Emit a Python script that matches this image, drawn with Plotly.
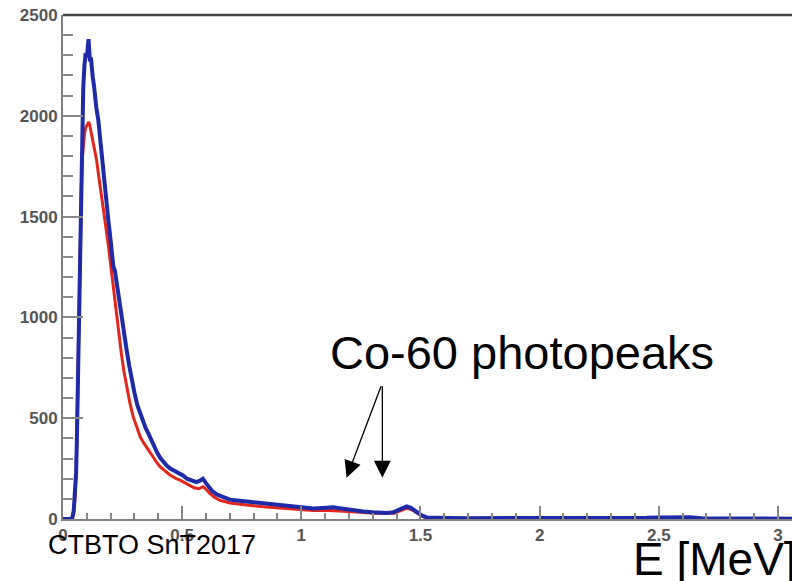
import plotly.graph_objects as go

# Energy spectra (counts per bin vs. energy in MeV)
blue_energy = [0.000, 0.030, 0.038, 0.045, 0.050, 0.055, 0.058, 0.060, 0.063, 0.067,
               0.071, 0.074, 0.078, 0.082, 0.085, 0.090, 0.095, 0.100, 0.104, 0.107,
               0.110, 0.113, 0.117, 0.120, 0.125, 0.130, 0.134, 0.140, 0.148, 0.155,
               0.162, 0.170, 0.176, 0.183, 0.190, 0.200, 0.211, 0.218, 0.225, 0.232,
               0.239, 0.250, 0.260, 0.267, 0.278, 0.288, 0.300, 0.312, 0.323, 0.335,
               0.347, 0.358, 0.370, 0.383, 0.395, 0.407, 0.420, 0.435, 0.450, 0.462,
               0.475, 0.491, 0.505, 0.520, 0.533, 0.545, 0.560, 0.575, 0.587, 0.600,
               0.610, 0.625, 0.645, 0.670, 0.700, 0.730, 0.770, 0.800, 0.840, 0.870,
               0.910, 0.950, 0.980, 1.010, 1.050, 1.090, 1.133, 1.160, 1.190, 1.220,
               1.260, 1.300, 1.330, 1.360, 1.385, 1.410, 1.430, 1.442, 1.460, 1.484,
               1.505, 1.526, 1.560, 1.610, 1.700, 1.800, 1.900, 2.000, 2.100, 2.200,
               2.300, 2.400, 2.450, 2.500, 2.550, 2.600, 2.630, 2.680, 2.800, 2.900,
               3.000, 3.060]
blue_counts = [0, 0, 0, 40, 110, 230, 380, 500, 750, 1020,
               1290, 1500, 1800, 2000, 2140, 2250, 2310, 2290, 2330, 2380,
               2330, 2270, 2290, 2240, 2190, 2150, 2095, 2040, 1980, 1890,
               1815, 1720, 1647, 1560, 1485, 1380, 1255, 1230, 1170, 1110,
               1070, 980, 890, 838, 760, 690, 625, 565, 525, 480,
               450, 425, 390, 355, 330, 305, 285, 265, 250, 243,
               235, 226, 215, 200, 193, 188, 183, 190, 200, 178,
               160, 140, 122, 108, 96, 92, 87, 83, 79, 78,
               74, 68, 62, 57, 52, 55, 58, 53, 47, 42,
               37, 33, 31, 30, 33, 45, 58, 62, 55, 36,
               18, 8, 5, 5, 4, 4, 4, 3, 3, 3,
               3, 4, 6, 8, 10, 12, 9, 4, 2, 2,
               1, 1]

red_energy = [0.000, 0.030, 0.038, 0.045, 0.050, 0.055, 0.058, 0.060, 0.063, 0.067,
              0.071, 0.074, 0.078, 0.082, 0.085, 0.090, 0.095, 0.100, 0.104, 0.108,
              0.112, 0.118, 0.125, 0.133, 0.141, 0.150, 0.155, 0.162, 0.169, 0.180,
              0.190, 0.197, 0.210, 0.220, 0.232, 0.245, 0.256, 0.267, 0.280, 0.295,
              0.309, 0.325, 0.340, 0.351, 0.365, 0.380, 0.395, 0.407, 0.425, 0.445,
              0.462, 0.475, 0.491, 0.510, 0.530, 0.550, 0.570, 0.587, 0.600, 0.615,
              0.635, 0.660, 0.700, 0.740, 0.780, 0.840, 0.900, 0.950, 1.000, 1.050,
              1.100, 1.140, 1.190, 1.250, 1.300, 1.350, 1.390, 1.415, 1.440, 1.460,
              1.485, 1.510, 1.530, 1.600, 1.700, 1.800, 1.900, 2.000, 2.100, 2.200,
              2.300, 2.400, 2.500, 2.600, 2.700, 2.800, 2.900, 3.000, 3.060]
red_counts = [0, 0, 0, 35, 100, 220, 370, 490, 720, 1000,
              1300, 1500, 1700, 1800, 1850, 1910, 1940, 1950, 1965, 1970,
              1955, 1920, 1880, 1830, 1780, 1700, 1660, 1590, 1540, 1440,
              1360, 1290, 1160, 1060, 930, 820, 730, 656, 580, 505,
              455, 405, 375, 355, 330, 300, 278, 260, 240, 222,
              210, 200, 193, 180, 165, 155, 150, 160, 148, 128,
              108, 92, 79, 72, 68, 61, 56, 50, 45, 42,
              44, 42, 37, 33, 28, 26, 28, 40, 53, 48,
              30, 12, 5, 4, 4, 3, 3, 3, 3, 3,
              2, 3, 4, 5, 2, 1, 1, 1, 1]

x_tick_vals = [0, 0.5, 1, 1.5, 2, 2.5, 3]
x_tick_text = ["0", "0.5", "1", "1.5", "2", "2.5", "3"]
y_tick_vals = [0, 500, 1000, 1500, 2000, 2500]
y_tick_text = ["0", "500", "1000", "1500", "2000", "2500"]

# Co-60 gamma lines marked by arrows
peak_energies = [1.19, 1.34]
peak_arrow_counts = [205, 205]

fig = go.Figure()
fig.add_trace(go.Scatter(x=red_energy, y=red_counts, mode="lines",
                         line=dict(color="#e3261c", width=3), showlegend=False))
fig.add_trace(go.Scatter(x=blue_energy, y=blue_counts, mode="lines",
                         line=dict(color="#1f2aa8", width=4), showlegend=False))

tick_font = dict(family="Liberation Sans", size=17, color="#555555", weight="bold")

fig.update_xaxes(range=[0, 3.059], showgrid=False, zeroline=False,
                 showline=True, linecolor="#808080", linewidth=2,
                 tickvals=x_tick_vals, ticktext=x_tick_text,
                 ticks="inside", ticklen=13, tickwidth=2, tickcolor="#888888",
                 minor=dict(dtick=0.1, ticks="inside", ticklen=6, tickwidth=2,
                            tickcolor="#888888", showgrid=False),
                 tickfont=tick_font)
fig.update_yaxes(range=[0, 2500], showgrid=False, zeroline=False,
                 showline=True, linecolor="#808080", linewidth=2,
                 tickvals=y_tick_vals, ticktext=y_tick_text,
                 ticks="inside", ticklen=20, tickwidth=2, tickcolor="#888888",
                 minor=dict(dtick=100, ticks="inside", ticklen=10, tickwidth=2,
                            tickcolor="#888888", showgrid=False),
                 tickfont=tick_font)

# frame line along the top of the plotting area
fig.add_shape(type="line", xref="paper", yref="paper", x0=0, x1=1, y0=1, y1=1,
              line=dict(color="#444444", width=2.5))

annotations = [
    dict(text="Co-60 photopeaks", xref="paper", yref="paper", x=0.630, y=0.330,
         xanchor="center", yanchor="middle", showarrow=False,
         font=dict(family="Liberation Sans", size=47, color="black")),
    dict(text="CTBTO SnT2017", xref="paper", yref="paper", x=-0.024, y=-0.052,
         xanchor="left", yanchor="middle", showarrow=False,
         font=dict(family="Liberation Sans", size=27, color="black")),
    dict(text="E [MeV]", xref="paper", yref="paper", x=0.779, y=-0.079,
         xanchor="left", yanchor="middle", showarrow=False,
         font=dict(family="Liberation Sans", size=46, color="black")),
]
arrow_offsets = [(35, -93), (0, -93)]
for e, c, (ax, ay) in zip(peak_energies, peak_arrow_counts, arrow_offsets):
    annotations.append(dict(text="", x=e, y=c, xref="x", yref="y",
                            ax=ax, ay=ay, showarrow=True, arrowhead=2,
                            arrowsize=2.6, arrowwidth=1.3, arrowcolor="black",
                            standoff=0))

fig.update_layout(width=792, height=581,
                  margin=dict(l=63, r=0, t=15, b=62),
                  paper_bgcolor="white", plot_bgcolor="white",
                  annotations=annotations, showlegend=False)

fig.write_html("out.html")
